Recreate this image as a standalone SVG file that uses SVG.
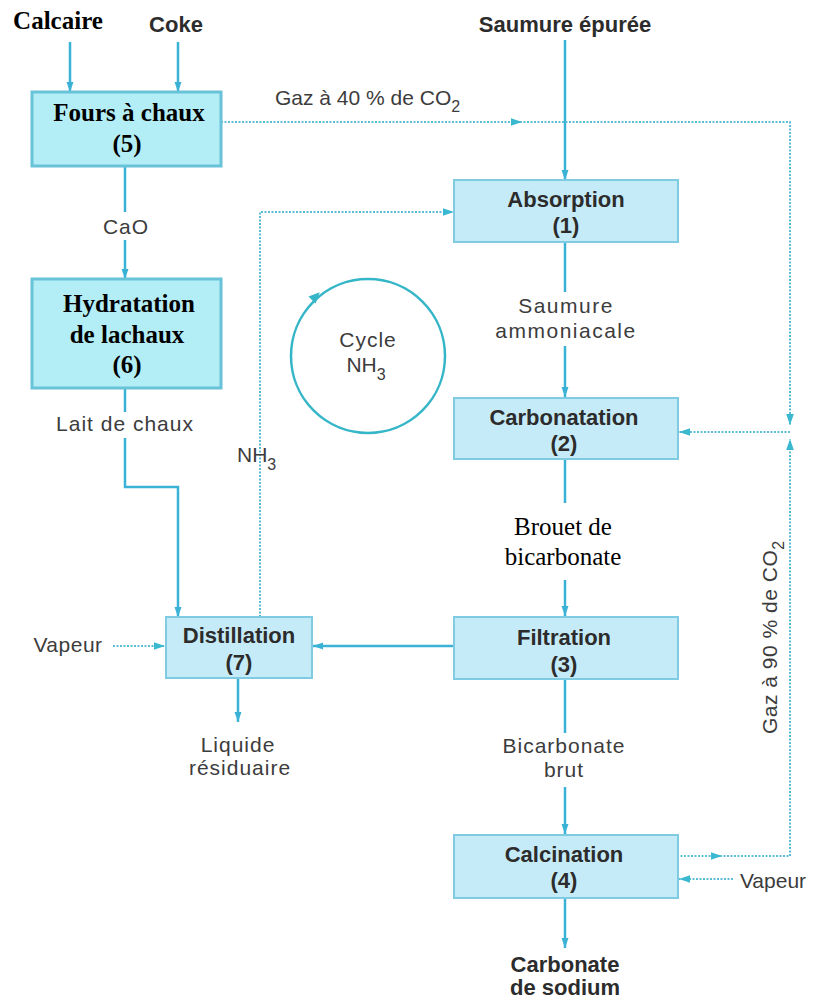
<svg xmlns="http://www.w3.org/2000/svg" width="814" height="1001" viewBox="0 0 814 1001">
<style>
.b1{fill:#b3eef7;stroke:#68c3d8;stroke-width:3}
.b2{fill:#c6ebf8;stroke:#7fcbe2;stroke-width:2}
.ser{font-family:"Liberation Serif","Times New Roman",serif;font-weight:bold;font-size:25px;fill:#000;text-anchor:middle}
.serr{font-family:"Liberation Serif","Times New Roman",serif;font-size:25px;fill:#000;text-anchor:middle}
.hb{font-family:"Liberation Sans",Arial,sans-serif;font-weight:bold;font-size:22px;fill:#2c2c2c;text-anchor:middle}
.hn{font-family:"Liberation Sans",Arial,sans-serif;font-size:21px;fill:#3c3c3c;text-anchor:middle}
.st{text-anchor:start}
.sol{fill:none;stroke:#3ab2d6;stroke-width:2.5}
.dot{fill:none;stroke:#5cbdd6;stroke-width:2;stroke-dasharray:2 1.5}
</style>
<defs>
<marker id="a" viewBox="0 0 10 10" refX="10" refY="5" markerWidth="10" markerHeight="10" markerUnits="userSpaceOnUse" orient="auto"><path d="M0,1.5 L10,5 L0,8.5 z" fill="#3ab2d6"/></marker>
<marker id="ad" viewBox="0 0 10 10" refX="10" refY="5" markerWidth="11" markerHeight="11" markerUnits="userSpaceOnUse" orient="auto"><path d="M0,1.5 L10,5 L0,8.5 z" fill="#3ab8d0"/></marker>
</defs>
<rect width="814" height="1001" fill="#fff"/>

<g id="connectors">
<path class="sol" d="M70,42 V92" marker-end="url(#a)"/>
<path class="sol" d="M178,42 V92" marker-end="url(#a)"/>
<path class="sol" d="M565,40 V180" marker-end="url(#a)"/>
<path class="sol" d="M125,166 V212"/>
<path class="sol" d="M125,240 V279" marker-end="url(#a)"/>
<path class="sol" d="M125,388 V412"/>
<path class="sol" d="M125,438 V487 H178 V617" marker-end="url(#a)"/>
<path class="dot" d="M221,122 H522" marker-end="url(#ad)"/>
<path class="dot" d="M520,122 H790 V425" marker-end="url(#ad)"/>
<path class="dot" d="M790,432 H679" marker-end="url(#ad)"/>
<path class="dot" d="M677,856 H722" marker-end="url(#ad)"/>
<path class="dot" d="M720,856 H790 V439" marker-end="url(#ad)"/>
<path class="dot" d="M733,879 H679" marker-end="url(#ad)"/>
<path class="dot" d="M113,646 H165" marker-end="url(#ad)"/>
<path class="dot" d="M260,617 V212 H454" marker-end="url(#ad)"/>
<path class="sol" d="M565,242 V292"/>
<path class="sol" d="M565,346 V397" marker-end="url(#a)"/>
<path class="sol" d="M565,459 V503"/>
<path class="sol" d="M565,580 V616" marker-end="url(#a)"/>
<path class="sol" d="M453,646 H313" marker-end="url(#a)"/>
<path class="sol" d="M565,679 V733"/>
<path class="sol" d="M565,787 V834" marker-end="url(#a)"/>
<path class="sol" d="M565,898 V948" marker-end="url(#a)"/>
<path class="sol" d="M238,678 V722" marker-end="url(#a)"/>
</g>

<g id="cycle">
<circle cx="368" cy="356" r="77" fill="none" stroke="#35b6c8" stroke-width="2.5"/>
<path d="M0,-5 L11,0 L0,5 z" fill="#35b6c8" transform="translate(312,300) rotate(-45)"/>
<text class="hn" x="368" y="347" letter-spacing="1">Cycle</text>
<text class="hn" x="366" y="372">NH<tspan font-size="16" dy="8">3</tspan></text>
</g>

<g id="n5">
<rect class="b1" x="32" y="92" width="189" height="74"/>
<text class="ser" x="129" y="121">Fours à chaux</text>
<text class="ser" x="127" y="152">(5)</text>
</g>
<g id="n6">
<rect class="b1" x="32" y="279" width="189" height="109"/>
<text class="ser" x="129" y="312">Hydratation</text>
<text class="ser" x="127" y="343">de lachaux</text>
<text class="ser" x="127" y="373">(6)</text>
</g>
<g id="n1">
<rect class="b2" x="454" y="180" width="224" height="62"/>
<text class="hb" x="566" y="207">Absorption</text>
<text class="hb" x="566" y="233">(1)</text>
</g>
<g id="n2">
<rect class="b2" x="454" y="398" width="224" height="61"/>
<text class="hb" x="564" y="425">Carbonatation</text>
<text class="hb" x="564" y="451">(2)</text>
</g>
<g id="n3">
<rect class="b2" x="454" y="617" width="224" height="62"/>
<text class="hb" x="564" y="645">Filtration</text>
<text class="hb" x="564" y="672">(3)</text>
</g>
<g id="n4">
<rect class="b2" x="454" y="835" width="224" height="63"/>
<text class="hb" x="564" y="862">Calcination</text>
<text class="hb" x="564" y="888">(4)</text>
</g>
<g id="n7">
<rect class="b2" x="166" y="617" width="146" height="61"/>
<text class="hb" x="239" y="643">Distillation</text>
<text class="hb" x="239" y="670">(7)</text>
</g>

<g id="labels">
<text class="ser" x="58" y="29">Calcaire</text>
<text class="hb" x="176" y="32" fill="#3a3a3a">Coke</text>
<text class="hb" x="565" y="32" fill="#3a3a3a">Saumure épurée</text>
<text class="hn st" x="275" y="105">Gaz à 40 % de CO<tspan font-size="16" dy="7">2</tspan></text>
<text class="hn" x="126" y="234" letter-spacing="1">CaO</text>
<text class="hn" x="125" y="431" letter-spacing="1">Lait de chaux</text>
<text class="hn st" x="237" y="462">NH<tspan font-size="16" dy="8">3</tspan></text>
<text class="hn" x="566" y="313" letter-spacing="1.5">Saumure</text>
<text class="hn" x="566" y="338" letter-spacing="1.5">ammoniacale</text>
<text class="serr" x="563" y="535">Brouet de</text>
<text class="serr" x="563" y="565">bicarbonate</text>
<text class="hn" x="68" y="652" letter-spacing="0.5">Vapeur</text>
<text class="hn" x="238" y="752" letter-spacing="1">Liquide</text>
<text class="hn" x="240" y="775" letter-spacing="1">résiduaire</text>
<text class="hn" x="564" y="753" letter-spacing="1">Bicarbonate</text>
<text class="hn" x="564" y="777" letter-spacing="1">brut</text>
<text class="hn" x="773" y="888">Vapeur</text>
<text class="hb" x="565" y="972" fill="#3a3a3a" font-size="20">Carbonate</text>
<text class="hb" x="565" y="995" fill="#3a3a3a" font-size="20">de sodium</text>
<text class="hn st" transform="translate(777,734) rotate(-90)" letter-spacing="0.5">Gaz à 90 % de CO<tspan font-size="16" dy="7">2</tspan></text>
</g>
</svg>
